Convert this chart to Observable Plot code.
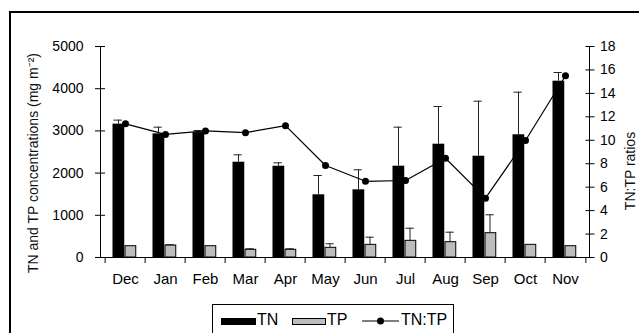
<!DOCTYPE html>
<html>
<head>
<meta charset="utf-8">
<script src="https://cdn.jsdelivr.net/npm/d3@7"></script>
<script src="https://cdn.jsdelivr.net/npm/@observablehq/plot@0.6"></script>
<style>
  html, body { margin: 0; padding: 0; background: white; }
  #wrap { position: relative; width: 639px; height: 333px; overflow: hidden; background: white; font-family: "Liberation Sans", Arial, sans-serif; }
  #border { position: absolute; left: 9px; top: 11px; width: 800px; height: 500px; border-left: 2px solid black; border-top: 2px solid black; }
  #chart { position: absolute; left: 0; top: 0; }
  #legend { position: absolute; left: 212px; top: 304px; width: 240px; height: 40px; border: 1px solid black; background: white; }
  #legend .sw { position: absolute; top: 13px; height: 7px; box-sizing: border-box; }
  #legend .lb { position: absolute; top: 6px; font-size: 16px; line-height: 18px; color: black; }
</style>
</head>
<body>
<div id="wrap">
  <div id="border"></div>
  <div id="chart"></div>
  <div id="legend"></div>
</div>
<script>
const months = ["Dec","Jan","Feb","Mar","Apr","May","Jun","Jul","Aug","Sep","Oct","Nov"];
const tn    = [3160, 2930, 2960, 2258, 2163, 1486, 1604, 2164, 2685, 2400, 2908, 4178];
const tnSd  = [  95,  158,   50,  175,   81,  457,  474,  924,  893, 1304, 1009,  206];
const tp    = [ 268,  284,  268,  182,  182,  230,  300,  395,  363,  576,  300,  268];
const tpSd  = [   0,   20,    0,   25,   25,   95,  181,  299,  237,  436,    0,    0];
const ratio = [11.4, 10.5, 10.8, 10.65, 11.25, 7.85, 6.5, 6.57, 8.47, 5.06, 9.98, 15.5];
const leftTicks  = [0, 1000, 2000, 3000, 4000, 5000];
const rightTicks = [0, 2, 4, 6, 8, 10, 12, 14, 16, 18];
const yTitle = "TN and TP concentrations (mg m\u207B\u00B2)";
const y2Title = "TN:TP ratios";
const legendItems = ["TN", "TP", "TN:TP"];

const k = 5000 / 18; // ratio -> left axis units
const data = months.map((m, i) => ({
  month: m, tn: tn[i], tnHi: tn[i] + tnSd[i], tnSd: tnSd[i],
  tp: tp[i], tpHi: tp[i] + tpSd[i], tpSd: tpSd[i], r: ratio[i] * k
}));

const W = 639, H = 333, ML = 100, MR = 50, MT = 46, MB = 76;
const bw = (W - ML - MR) / months.length;

const chart = Plot.plot({
  width: W, height: H,
  marginLeft: ML, marginRight: MR, marginTop: MT, marginBottom: MB,
  style: { fontFamily: "Liberation Sans, Arial, sans-serif", fontSize: "14px", color: "black", background: "transparent", overflow: "visible" },
  x: { type: "band", domain: months, padding: 0, label: null },
  y: { domain: [0, 5000], label: null },
  marks: [
    Plot.barY(data, { x: "month", y: "tn", fill: "black", insetLeft: 7.5, insetRight: bw - 20 }),
    Plot.barY(data, { x: "month", y: "tp", fill: "#bdbdbd", stroke: "black", strokeWidth: 1, insetLeft: 20, insetRight: bw - 31.5 }),
    Plot.ruleX(data.filter(d => d.tnSd > 0), { x: "month", y1: "tn", y2: "tnHi", dx: -7, stroke: "#222" }),
    Plot.tickY(data.filter(d => d.tnSd > 0), { x: "month", y: "tnHi", insetLeft: 8.5, insetRight: bw - 17.5, stroke: "#222" }),
    Plot.ruleX(data.filter(d => d.tpSd > 0), { x: "month", y1: "tp", y2: "tpHi", dx: 4.5, stroke: "#222" }),
    Plot.tickY(data.filter(d => d.tpSd > 0), { x: "month", y: "tpHi", insetLeft: 20.5, insetRight: bw - 29.5, stroke: "#222" }),
    Plot.lineY(data, { x: "month", y: "r", stroke: "black", strokeWidth: 1.2 }),
    Plot.dot(data, { x: "month", y: "r", r: 3.5, fill: "black" }),
    Plot.ruleY([0], { stroke: "black" }),
    Plot.frame({ anchor: "left", stroke: "black" }),
    Plot.frame({ anchor: "right", stroke: "black" }),
    Plot.axisY(leftTicks, { anchor: "left", tickSize: 10, dx: 5, tickPadding: 12, label: null, fontSize: 14, tickFormat: d => String(d) }),
    Plot.axisY(rightTicks.map(r => r * k), { anchor: "right", tickSize: 9, dx: -4.5, tickPadding: 6, label: null, fontSize: 14, tickFormat: d => String(Math.round(d / k)) }),
    Plot.axisX({ tickSize: 0, tickPadding: 16, label: null, fontSize: 15 }),
    Plot.axisX({ tickSize: 6, dx: -bw / 2, label: null, tickFormat: () => "" }),
    Plot.axisX(["Nov"], { tickSize: 6, dx: bw / 2, label: null, tickFormat: () => "" }),
    Plot.text([yTitle], { text: d => d, frameAnchor: "left", dx: -67, dy: 11, rotate: -90, fontSize: 14, lineAnchor: "middle", textAnchor: "middle", fill: "#111" }),
    Plot.text([y2Title], { text: d => d, frameAnchor: "right", dx: 41, dy: 19, rotate: -90, fontSize: 14, lineAnchor: "middle", textAnchor: "middle", fill: "#111" })
  ]
});
document.getElementById("chart").appendChild(chart);

// legend
const lg = document.getElementById("legend");
const sw1 = document.createElement("div"); sw1.className = "sw";
Object.assign(sw1.style, { left: "8px", width: "35px", background: "black" });
const sw2 = document.createElement("div"); sw2.className = "sw";
Object.assign(sw2.style, { left: "79px", width: "34px", background: "#bdbdbd", border: "1px solid black" });
const sw3 = document.createElementNS("http://www.w3.org/2000/svg", "svg");
sw3.setAttribute("width", "38"); sw3.setAttribute("height", "12");
Object.assign(sw3.style, { position: "absolute", left: "149px", top: "10px" });
sw3.innerHTML = '<line x1="0" y1="6" x2="37" y2="6" stroke="black" stroke-width="1.2"/><circle cx="18.5" cy="6" r="3.5" fill="black"/>';
lg.appendChild(sw1); lg.appendChild(sw2); lg.appendChild(sw3);
const lefts = [44, 114, 188];
legendItems.forEach((t, i) => {
  const s = document.createElement("span"); s.className = "lb"; s.textContent = t; s.style.left = lefts[i] + "px";
  lg.appendChild(s);
});
</script>
</body>
</html>
